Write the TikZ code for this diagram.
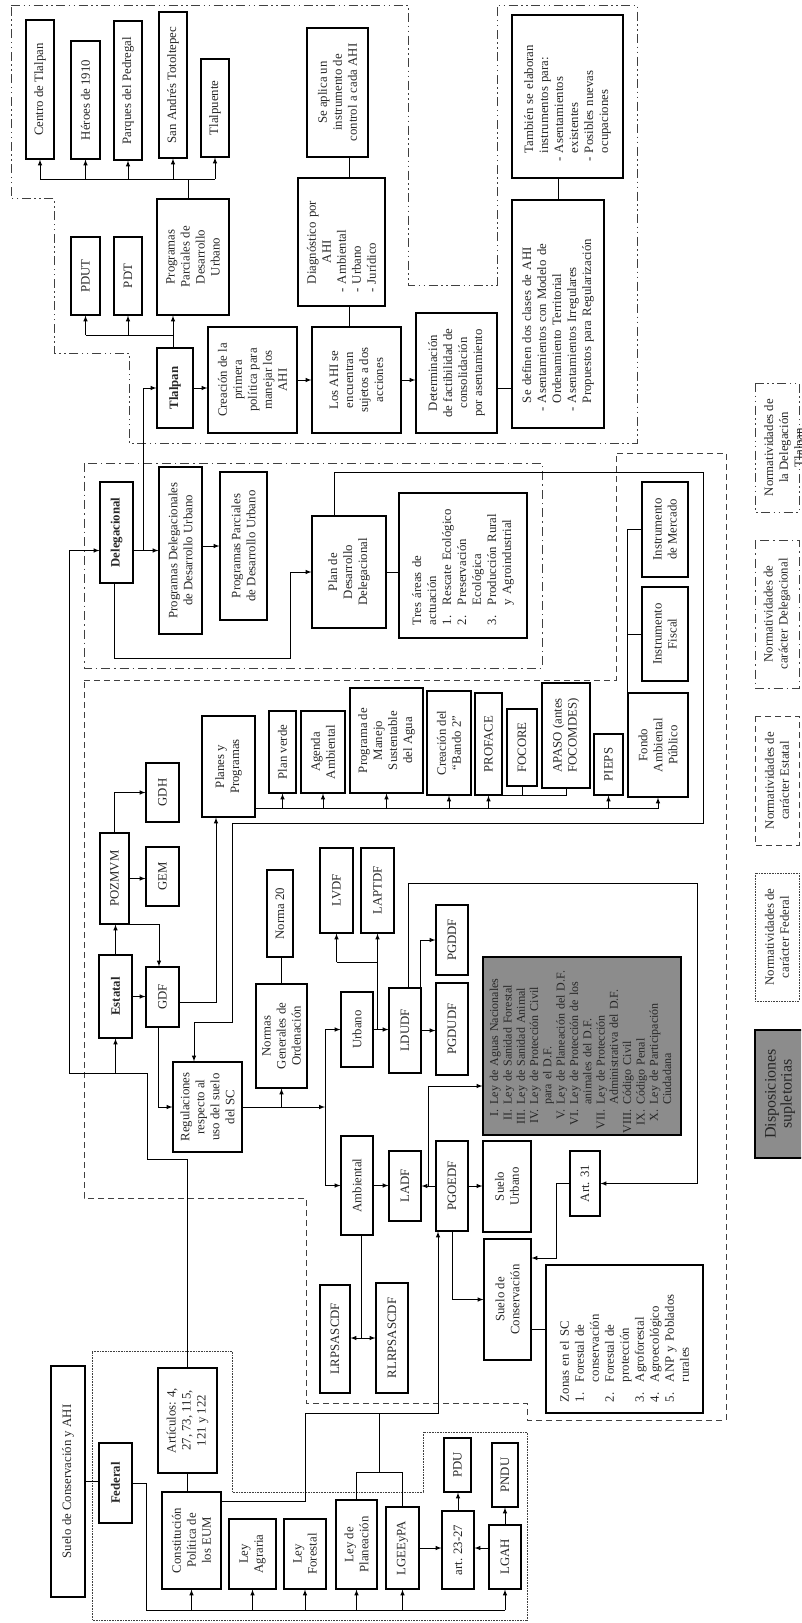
\documentclass[tikz,border=0pt]{standalone}
\usepackage{fontspec}
\setmainfont{Liberation Serif}
\usepackage{tikz}
\usepackage{xcolor}

\newcommand{\boxfont}{\fontsize{12.8}{15}\selectfont}
\newcommand{\itm}{\leavevmode\llap{-\hspace{4pt}}}

\begin{document}
\begin{tikzpicture}[x=1pt, y=-1pt, >=latex,
    box/.style={draw, line width=1.1pt, rotate=90, inner sep=2pt, align=center, font=\boxfont, text=black!85},
    sz/.style 2 args={minimum height=#1pt, minimum width=#2pt},
    lst/.style={align=left, text width=#1pt},
    link/.style={line width=1pt},
    arr/.style={line width=1pt, ->},
    tlalreg/.style={line width=1pt, draw=black!75, dash pattern=on 9pt off 3.5pt on 1.5pt off 3.5pt on 1.5pt off 3.5pt},
    delreg/.style={line width=1pt, draw=black!75, dash pattern=on 9pt off 4pt on 1.5pt off 4pt},
    estreg/.style={line width=1pt, draw=black!75, dash pattern=on 6pt off 4pt},
    fedreg/.style={line width=1pt, draw=black!75, dash pattern=on 0.8pt off 0.8pt}]

    \useasboundingbox (0,0) rectangle (801,1623);
    \clip (0,0) rectangle (801,1623);

    % Regions
    \draw[tlalreg] (11,5) -- (408,5) -- (408,285) -- (497,285) -- (497,5) -- (637,5) -- (637,443)
        -- (129,443) -- (129,353) -- (54,353) -- (54,198) -- (11,198) -- cycle;
    \draw[delreg] (84,463) rectangle (542,668);
    \draw[estreg] (84,680) -- (616,680) -- (616,453) -- (726,453) -- (726,1420) -- (527,1420)
        -- (527,1403) -- (306,1403) -- (306,1198) -- (84,1198) -- cycle;
    \draw[fedreg] (92,1351) -- (232,1351) -- (232,1492) -- (423,1492) -- (423,1432) -- (527,1432)
        -- (527,1620) -- (92,1620) -- cycle;

    % Tlalpan
    \node[box, sz={28}{139}] (cTlal) at (40,89.5) {Centro de Tlalpan};
    \node[box, sz={29}{118}] (heroes) at (85.5,100) {Héroes de 1910};
    \node[box, sz={28}{139}] (parques) at (128,90.5) {Parques del Pedregal};
    \node[box, sz={28}{146}] (sanAndres) at (173,85) {San Andrés Totoltepec};
    \node[box, sz={28}{98}] (tlalpuente) at (215,108) {Tlalpuente};
    \node[box, sz={72}{116}] (ppdu) at (193,257) {Programas\\Parciales de\\Desarrollo\\Urbano};
    \node[box, sz={29}{78}] (pdut) at (85.5,276) {PDUT};
    \node[box, sz={28}{78}] (pdt) at (128,276) {PDT};
    \node[box, sz={36}{80}] (tlalpan) at (175,388) {\textbf{Tlalpan}};
    \node[box, sz={89}{106}] (creacion) at (252.5,380) {Creación de la\\primera\\política para\\manejar los\\AHI};
    \node[box, sz={89}{106}] (losAHI) at (356.5,380) {Los AHI se\\encuentran\\sujetos a dos\\acciones};
    \node[box, sz={81}{120}] (determ) at (456.5,373) {Determinación\\de factibilidad de\\consolidación\\por asentamiento};
    \node[box, sz={92}{228}, lst=178] (definen) at (558,314) {Se definen dos clases de AHI\\
        \itm Asentamientos con Modelo de\\Ordenamiento Territorial\\
        \itm Asentamientos Irregulares\\Propuestos para Regularización};
    \node[box, sz={111}{163}, lst=113] (tambien) at (567.5,96.5) {También se elaboran\\instrumentos para:\\
        \itm Asentamientos\\existentes\\\itm Posibles nuevas\\ocupaciones};
    \node[box, sz={61}{129}] (aplica) at (337.5,92.5) {Se aplica un\\instrumento de\\control a cada AHI};
    \node[box, sz={87}{128}, lst=84] (diag) at (341.5,242) {Diagnóstico por\\\hspace*{21pt}AHI\\
        \itm Ambiental\\\itm Urbano\\\itm Jurídico};

    \coordinate (busA) at (188,179);
    \draw[link] (cTlal.west |- busA) -- (tlalpuente.west |- busA);
    \foreach \n in {cTlal,heroes,parques,sanAndres,tlalpuente}
        \draw[arr] (\n.west |- busA) -- (\n.west);
    \draw[link] (busA) -- (busA |- ppdu.east);
    \coordinate (busB) at (173,335);
    \draw[link] (pdut.west |- busB) -- (busB);
    \foreach \n in {pdut,pdt}
        \draw[arr] (\n.west |- busB) -- (\n.west);
    \draw[arr] (busB) -- (busB |- ppdu.west);
    \draw[link] (busB) -- (busB |- tlalpan.east);
    \draw[arr] (tlalpan.south) -- (tlalpan.south -| creacion.north);
    \draw[arr] (creacion.south) -- (creacion.south -| losAHI.north);
    \draw[arr] (losAHI.south) -- (losAHI.south -| determ.north);
    \draw[link] (determ.south |- tlalpan.south) -- (definen.north |- tlalpan.south);
    \draw[link] (definen.east) -- (definen.east |- tambien.west);
    \draw[link] ([xshift=7.5pt]diag.east) -- ([xshift=7.5pt]diag.east |- aplica.west);
    \draw[link] ([xshift=7.5pt]diag.west) -- ([xshift=7.5pt]diag.west |- losAHI.east);

    % Delegacional
    \node[box, sz={33}{101}] (deleg) at (116.5,532.5) {\textbf{Delegacional}};
    \node[box, sz={43}{167}] (pdel) at (180.5,550.5) {Programas Delegacionales\\de Desarrollo Urbano};
    \node[box, sz={47}{148}] (ppdu2) at (243.5,546) {Programas Parciales\\de Desarrollo Urbano};
    \node[box, sz={74}{112}] (plandd) at (349,572) {Plan de\\Desarrollo\\Delegacional};
    \node[box, sz={128}{145}, lst=119] (tres) at (463,565.5) {Tres áreas de\\actuación\\
        \makebox[20pt][l]{1.}Rescate Ecológico\\\makebox[20pt][l]{2.}Preservación\\\hspace*{20pt}Ecológica\\
        \makebox[20pt][l]{3.}Producción Rural\\\hspace*{20pt}y Agroindustrial};
    \node[box, sz={46}{95}] (instMerc) at (665,529.5) {Instrumento\\de Mercado};
    \node[box, sz={46}{94}] (instFisc) at (665,634) {Instrumento\\Fiscal};
    \node[box, sz={60}{104}] (fondo) at (658,745) {Fondo\\Ambiental\\Público};

    \coordinate (jD) at (143,550.5);
    \draw[arr] (deleg.south |- pdel.north) -- (pdel.north);
    \draw[arr] (jD) |- (tlalpan.north);
    \draw[arr] (pdel.south |- ppdu2.north) -- (ppdu2.north);
    \coordinate (cDel) at (290,658);
    \draw[arr] ([xshift=-2.5pt]deleg.west) |- (cDel) |- (plandd.north);
    \draw[link] (plandd.south) -- (plandd.south -| tres.north);
    \draw[link] (fondo.north |- fondo.east) |- (instMerc.north);
    \draw[link] (fondo.north |- instFisc.north) -- (instFisc.north);

    % Estatal
    \node[box, sz={33}{83}] (estatal) at (115.5,996.5) {\textbf{Estatal}};
    \node[box, sz={29}{91}] (pozmvm) at (114.5,878.5) {POZMVM};
    \node[box, sz={33}{59}] (gem) at (162.5,876.5) {GEM};
    \node[box, sz={33}{59}] (gdh) at (162.5,792.5) {GDH};
    \node[box, sz={33}{60}] (gdf) at (162.5,997) {GDF};
    \node[box, sz={53}{101}] (planes) at (228.5,766.5) {Planes y\\Programas};
    \node[box, sz={27}{82}] (planVerde) at (282.5,752) {Plan verde};
    \node[box, sz={44}{82}] (agenda) at (323,752) {Agenda\\Ambiental};
    \node[box, sz={73}{105}] (manejo) at (386.5,740.5) {Programa de\\Manejo\\Sustentable\\del Agua};
    \node[box, sz={44}{104}] (bando) at (449,743) {Creación del\\“Bando 2”};
    \node[box, sz={27}{102}] (proface) at (488.5,744) {PROFACE};
    \node[box, sz={30}{77}] (focore) at (522,747.5) {FOCORE};
    \node[box, sz={48}{105}] (apaso) at (566,735.5) {APASO (antes\\FOCOMDES)};
    \node[box, sz={29}{61}] (pieps) at (608.5,764.5) {PIEPS};
    \node[box, sz={26}{87}] (norma20) at (280,913.5) {Norma 20};
    \node[box, sz={33}{85}] (lvdf) at (336.5,890.5) {LVDF};
    \node[box, sz={33}{85}] (laptdf) at (377.5,890.5) {LAPTDF};
    \node[box, sz={69}{90}] (regul) at (207.5,1107) {Regulaciones\\respecto al\\uso del suelo\\del SC};
    \node[box, sz={51}{104}] (normas) at (281.5,1036) {Normas\\Generales de\\Ordenación};
    \node[box, sz={32}{75}] (urbano) at (357,1029.5) {Urbano};
    \node[box, sz={32}{99}] (ambiental) at (357,1185.5) {Ambiental};
    \node[box, sz={32}{85}] (ldudf) at (405,1030.5) {LDUDF};
    \node[box, sz={32}{92}] (pgdudf) at (452,1029) {PGDUDF};
    \node[box, sz={32}{70}] (pgddf) at (452,940) {PGDDF};
    \node[box, sz={32}{70}] (ladf) at (405,1186) {LADF};
    \node[box, sz={32}{90}] (pgoedf) at (452,1186) {PGOEDF};
    \node[box, sz={48}{91}] (sueloUrb) at (507,1186.5) {Suelo\\Urbano};
    \node[box, sz={47}{121}] (sueloCons) at (507.5,1299.5) {Suelo de\\Conservación};
    \node[box, sz={30}{65}] (art31) at (585,1183.5) {Art. 31};
    \node[box, sz={198}{178}, lst=174, fill=black!45, font=\fontsize{12}{13.3}\selectfont] (supl) at (582,1046) {%
        \begin{tabular}{@{}r@{\hspace{5pt}}l@{}}
        I. & Ley de Aguas Nacionales\\
        II. & Ley de Sanidad Forestal\\
        III. & Ley de Sanidad Animal\\
        IV. & Ley de Protección Civil\\
         & para el D.F.\\
        V. & Ley de Planeación del D.F.\\
        VI. & Ley de Protección de los\\
         & animales del D.F.\\
        VII. & Ley de Protección\\
         & Administrativa del D.F.\\
        VIII. & Código Civil\\
        IX. & Código Penal\\
        X. & Ley de Participación\\
         & Ciudadana
        \end{tabular}};
    \node[box, sz={157}{148}, lst=126] (zonas) at (624.5,1339) {Zonas en el SC\\
        \makebox[20pt][l]{1.}Forestal de\\\hspace*{20pt}conservación\\
        \makebox[20pt][l]{2.}Forestal de\\\hspace*{20pt}protección\\
        \makebox[20pt][l]{3.}Agroforestal\\\makebox[20pt][l]{4.}Agroecológico\\
        \makebox[20pt][l]{5.}ANP y Poblados\\\hspace*{20pt}rurales};
    \node[box, sz={30}{108}] (lrp) at (335,1339) {LRPSASCDF};
    \node[box, sz={32}{110}] (rlrp) at (392,1338) {RLRPSASCDF};

    \coordinate (loopA) at (703,472);
    \coordinate (loopB) at (232,823);
    \coordinate (loopC) at (194,1022);
    \draw[arr] ([xshift=-15pt]plandd.east) |- (loopA) |- (loopB) |- (loopC) -- ([xshift=-13.5pt]regul.east);
    \draw[arr] (estatal.east) -- (estatal.east |- pozmvm.west);
    \draw[arr] (estatal.south) -- (estatal.south -| gdf.north);
    \draw[arr] (pozmvm.south) -- (pozmvm.south -| gem.north);
    \draw[arr] (pozmvm.east) |- (gdh.north);
    \draw[arr] (pozmvm.south west) -| ([xshift=-3.5pt]gdf.east);
    \draw[arr] ([yshift=-5pt]gdf.south) -| ([xshift=-12.5pt]planes.west);
    \draw[arr] ([xshift=-4.5pt]gdf.west) |- (regul.north);
    \coordinate (busP) at (659,808);
    \draw[link] (planes.south |- busP) -- (busP);
    \foreach \n in {planVerde,agenda,manejo,bando,proface,pieps,fondo}
        \draw[arr] (\n.west |- busP) -- (\n.west);
    \draw[link] (proface.south west) -| (apaso.west);
    \draw[link] (focore.west) -- (focore.west |- proface.south west);
    \draw[link] (normas.east) -- (normas.east |- norma20.west);
    \coordinate (jR) at (325,1107);
    \draw[arr] (regul.south) -- (jR);
    \draw[arr] (normas.west |- regul.south) -- (normas.west);
    \draw[arr] (jR) |- (urbano.north);
    \draw[arr] (jR) |- (ambiental.north);
    \draw[arr] (urbano.south) -- (urbano.south -| ldudf.north);
    \coordinate (busL) at (379,962);
    \draw[link] (lvdf.west |- busL) -- (laptdf.west |- busL);
    \draw[arr] (lvdf.west |- busL) -- (lvdf.west);
    \draw[arr] (laptdf.west |- urbano.south) -- (laptdf.west);
    \draw[arr] (ldudf.south) -- (ldudf.south -| pgdudf.north);
    \draw[arr] ([xshift=-1.5pt]ldudf.south east) |- (pgddf.north);
    \coordinate (frmA) at (697,883);
    \draw[arr] ([xshift=3pt]ldudf.east) |- (frmA) |- (art31.south);
    \coordinate (jA) at (556,1258);
    \draw[arr] (art31.north) -| (jA) -- (sueloCons.south |- jA);
    \draw[arr] (ambiental.south) -- (ambiental.south -| ladf.north);
    \coordinate (jG) at (428,1186);
    \draw[arr] (pgoedf.north) -- (pgoedf.north -| ladf.south);
    \draw[arr] (jG) |- ([yshift=-40pt]supl.north);
    \draw[arr] (pgoedf.south) -- (pgoedf.south -| sueloUrb.north);
    \draw[arr] (pgoedf.west) |- (sueloCons.north);
    \draw[link] ([yshift=-30pt]sueloCons.south) -- ([yshift=-30pt]sueloCons.south -| zonas.north);
    \coordinate (jL) at (361,1338);
    \draw[link] ([xshift=4pt]ambiental.west) -- (jL);
    \draw[arr] (jL) -- (jL -| lrp.south);
    \draw[arr] (jL) -- (jL -| rlrp.north);

    % Federal
    \node[box, sz={34}{231}] (suelo) at (68,1481.5) {Suelo de Conservación y AHI};
    \node[box, sz={33}{80}] (federal) at (115.5,1483) {\textbf{Federal}};
    \node[box, sz={59}{105}] (articulos) at (187.5,1420.5) {Artículos: 4,\\27, 73, 115,\\121 y 122};
    \node[box, sz={59}{97}] (constit) at (191.5,1540.5) {Constitución\\Política de\\los EUM};
    \node[box, sz={47}{70}] (leyAgr) at (252.5,1554) {Ley\\Agraria};
    \node[box, sz={42}{70}] (leyFor) at (305,1554) {Ley\\Forestal};
    \node[box, sz={41}{89}] (leyPlan) at (356.5,1544.5) {Ley de\\Planeación};
    \node[box, sz={33}{82}] (lgeepa) at (402.5,1548) {LGEEyPA};
    \node[box, sz={32}{78}] (art2327) at (458,1550) {art. 23-27};
    \node[box, sz={27}{54}] (pdu) at (457.5,1465) {PDU};
    \node[box, sz={32}{64}] (lgah) at (505,1557) {LGAH};
    \node[box, sz={26}{64}] (pndu) at (505,1475) {PNDU};

    \draw[link] (suelo.south) -- (suelo.south -| federal.north);
    \coordinate (busF) at (146,1610);
    \draw[link] (federal.south) -| (busF) -- (busF -| lgah.west);
    \foreach \n in {constit,leyAgr,leyFor,leyPlan,lgeepa,lgah}
        \draw[arr] (\n.west |- busF) -- (\n.west);
    \draw[link] (articulos.west) -- (articulos.west |- constit.east);
    \coordinate (upA) at (147,1159);
    \coordinate (upB) at (69,1073);
    \draw[arr] (articulos.east) |- (upA) |- (upB) |- (deleg.north |- pdel.north);
    \draw[arr] (estatal.west |- upB) -- (estatal.west);
    \coordinate (cA) at (305,1413);
    \draw[arr] ([yshift=39.5pt]constit.south) -| (cA) -| ([xshift=-14pt]pgoedf.west);
    \coordinate (lj) at (379,1472);
    \draw[link] (leyPlan.east) |- (lj) -| (lgeepa.east);
    \draw[link] (lj) -- (lj |- cA);
    \draw[arr] (lgeepa.south) -- (lgeepa.south -| art2327.north);
    \draw[arr] (lgah.north |- lgeepa.south) -- (art2327.south |- lgeepa.south);
    \draw[arr] (art2327.east) -- (art2327.east |- pdu.west);
    \draw[arr] (lgah.east) -- (pndu.west);

    % Legend
    \node[box, tlalreg, sz={44}{129}] (legTlal) at (777,447.5) {};
    \node[rotate=90, align=center, font=\boxfont, text=black!85] (legTlalTxt) at (785,447.5) {Normatividades de\\la Delegación\\Tlalpan};
    \node[box, delreg, sz={44}{148}] (legDel) at (777,614) {Normatividades de\\carácter Delegacional};
    \node[box, estreg, sz={44}{129}] (legEst) at (777,780.5) {Normatividades de\\carácter Estatal};
    \node[box, fedreg, sz={44}{128}] (legFed) at (777,937) {Normatividades de\\carácter Federal};
    \node[box, sz={50}{128}, fill=black!45, line width=1.3pt, font=\fontsize{16}{16}\selectfont] (legSupl) at (780,1094) {Disposiciones\\supletorias};
\end{tikzpicture}
\end{document}
